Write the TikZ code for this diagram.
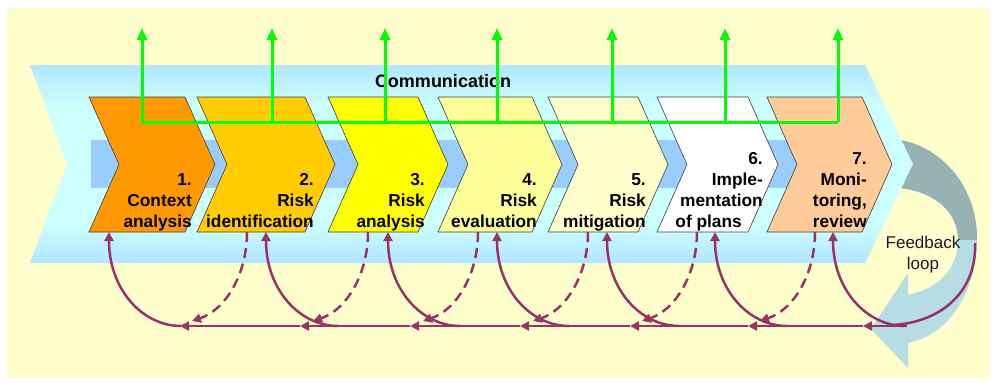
\documentclass[tikz,border=0pt]{standalone}
\usepackage{fontspec}
\setmainfont{Liberation Sans}
\usetikzlibrary{arrows.meta}
\definecolor{Paper}{HTML}{FFFFCC}
\definecolor{Band}{HTML}{99CCFF}
\definecolor{BandLight}{HTML}{CCFFFF}
\definecolor{StepA}{HTML}{FF9900}
\definecolor{StepB}{HTML}{FFCC00}
\definecolor{StepC}{HTML}{FFFF00}
\definecolor{StepD}{HTML}{FFFF99}
\definecolor{StepE}{HTML}{FFFFCC}
\definecolor{StepF}{HTML}{FFFFFF}
\definecolor{StepG}{HTML}{FFCC99}
\definecolor{Comm}{HTML}{00FF00}
\definecolor{Loop}{HTML}{993366}
\definecolor{LoopGray}{HTML}{97B2B4}
\definecolor{LoopBlue}{HTML}{B5DDE3}
\definecolor{Ink}{HTML}{1A1A33}
\pgfdeclareverticalshading{bandshade}{100bp}{color(0bp)=(Band); color(15bp)=(Band); color(35bp)=(BandLight); color(65bp)=(BandLight); color(85bp)=(Band); color(100bp)=(Band)}
\tikzset{
  chev/.style={draw=black!75,line width=0.6pt},
  steptext/.style={font=\bfseries\fontsize{17.3}{21}\selectfont,align=right,inner sep=0pt,anchor=south east},
  commArrow/.style={-{Triangle[length=12pt,width=10pt]},line width=3pt,draw=Comm},
  loopArrow/.style={-{Triangle[length=9pt,width=9pt]},line width=2.5pt,draw=Loop},
  loopDash/.style={loopArrow,dash pattern=on 10pt off 6pt}
}
% chevron: left edge, top width, fill colour
\newcommand{\chevron}[3]{%
  \draw[chev,fill=#3] (#1,97) -- ++(#2,0) -- ++(30,67.5) -- ++(-30,67.5) -- ++(-#2,0) -- ++(30,-67.5) -- cycle;}
\begin{document}
\begin{tikzpicture}[x=1pt,y=-1pt]
\useasboundingbox (0,0) rectangle (997,383);
\fill[Paper] (7,8) rectangle (990,378);
% feedback loop arrow
\begin{scope}
  \clip (900,140) .. controls (945,148) and (977,190) .. (977,238)
    .. controls (977,290) and (950,335) .. (908,343) -- (908,368) -- (871,329) -- (908,273) -- (908,295)
    .. controls (940,288) and (958,268) .. (958,240) .. controls (958,212) and (935,192) .. (900,188) -- cycle;
  \fill[LoopBlue] (860,130) rectangle (990,380);
  \fill[LoopGray] (860,130) rectangle (990,240);
\end{scope}
% communication band
\shade[shading=bandshade]
  (30,65) -- (865,65) -- (913,164) -- (865,263) -- (30,263) -- (67,164) -- cycle;
\fill[Band] (91,140) rectangle (870,188);
% steps
\chevron{89}{96}{StepA}
\chevron{197}{108}{StepB}
\chevron{328}{90}{StepC}
\chevron{438}{94}{StepD}
\chevron{548}{90}{StepE}
\chevron{657}{91}{StepF}
\chevron{767}{95}{StepG}
\node[steptext] (s1) at (192,234) {1.\\Context\\analysis\strut};
\node[steptext] (s2) at (314,234) {2.\\Risk\\identification\strut};
\node[steptext] (s3) at (425,234) {3.\\Risk\\analysis\strut};
\node[steptext] (s4) at (537,234) {4.\\Risk\\evaluation\strut};
\node[steptext] (s5) at (646,234) {5.\\Risk\\mitigation\strut};
\node[steptext] (s6) at (763,234) {6.\\Imple-\\mentation\\of plans\hspace*{21pt}\strut};
\node[steptext] (s7) at (867,234) {7.\\Moni-\\toring,\\review\strut};
\node[font=\bfseries\fontsize{18}{20}\selectfont] (comm) at (443,81) {Communication};
% communication arrows
\foreach \x [count=\i] in {142,272,385,497,612,725,838} {
  \coordinate (g\i) at (\x,122);
  \coordinate (t\i) at (\x,28);
}
\draw[commArrow] (g7) -- (g1) -- (t1);
\foreach \i in {2,...,7}
  \draw[commArrow] (g\i) -- (t\i);
% feedback paths
\foreach \x [count=\i] in {180,300,410,520,630,748,863}
  \coordinate (l\i) at (\x,326);
\coordinate (lr) at (907,326);
\draw[loopArrow] (lr) -- (l7);
\foreach \i/\j in {7/6,6/5,5/4,4/3,3/2,2/1}
  \draw[loopArrow] (l\i) -- (l\j);
\foreach \t [count=\i] in {109,266,388,497,607,715,833} {
  \coordinate (up\i) at (\t,232);
  \coordinate (st\i) at (\t+72,326);
  \draw[loopArrow] (st\i) .. controls +(-38,0) and +(0,58) .. (up\i);
}
\foreach \d [count=\i] in {247,368,478,588,697,815} {
  \coordinate (dn\i) at (\d,232);
  \coordinate (de\i) at (\d-55,321);
  \draw[loopDash] (dn\i) .. controls +(0,43) and +(33,-11) .. (de\i);
}
\coordinate (fb) at (975,243);
\coordinate (fe) at (893,325);
\draw[Loop,line width=2.5pt] (fb) .. controls +(2,47) and +(50,-3) .. (fe);
\node[font=\fontsize{17}{21}\selectfont,align=center,text=Ink] (fbtext) at (923,255) {Feedback\\loop};
\end{tikzpicture}
\end{document}
